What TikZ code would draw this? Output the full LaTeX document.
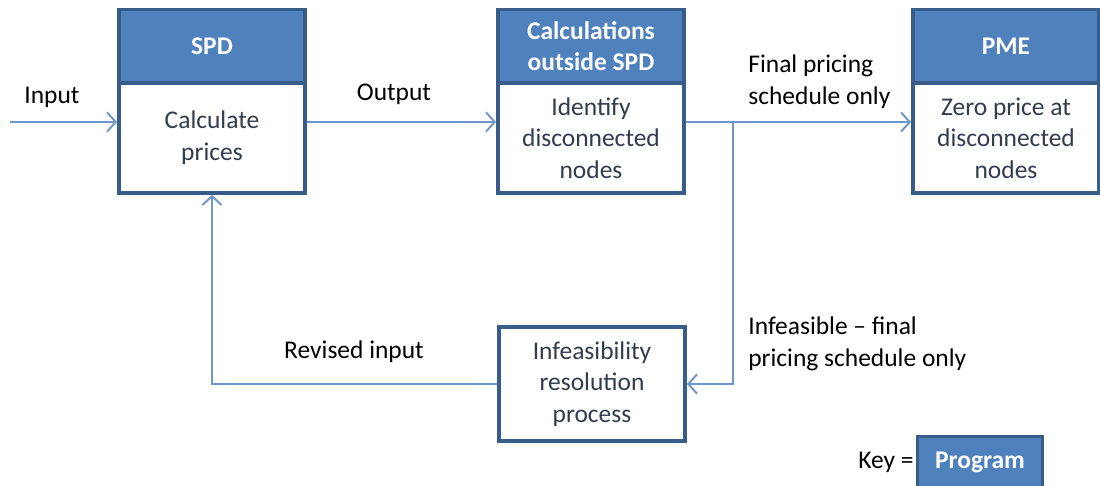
\documentclass[tikz,border=0pt]{standalone}
\usepackage{fontspec}
\setmainfont{Carlito}
\usetikzlibrary{arrows.meta}
\definecolor{hdblue}{RGB}{79,129,189}
\definecolor{rimblue}{RGB}{56,93,138}
\definecolor{lineblue}{RGB}{110,150,205}
\definecolor{bodytext}{RGB}{50,60,78}

\begin{document}
\begin{tikzpicture}[x=0.02cm,y=-0.02cm,
    font=\fontsize{14.5}{18}\selectfont,
    head/.style={draw=rimblue,fill=hdblue,line width=2.2pt,text=white,font=\fontsize{14.5}{18}\selectfont\bfseries,
        minimum width=3.72cm,minimum height=1.46cm,align=center,inner sep=0pt},
    body/.style={draw=rimblue,fill=white,line width=2.2pt,text=bodytext,
        minimum width=3.72cm,minimum height=2.2cm,align=center,inner sep=0pt},
    flow/.style={draw=lineblue,line width=1.1pt,-{Straight Barb[length=5pt,width=11pt]}},
    lbl/.style={text=black,align=left,inner sep=0pt}]
    \useasboundingbox (0,0) rectangle (1100,486);

    % program boxes
    \node[head] (spdh) at (212,46) {SPD};
    \node[body] (spd) at (212,138) {Calculate\\prices};

    \node[head] (calch) at (591,46) {Calculations\\outside SPD};
    \node[body] (calc) at (591,138) {Identify\\disconnected\\nodes};

    \node[head] (pmeh) at (1006,46) {PME};
    \node[body] (pme) at (1006,138) {Zero price at\\disconnected\\nodes};

    % infeasibility step
    \node[body,minimum height=2.28cm] (infs) at (592,384) {Infeasibility\\resolution\\process};

    % flows
    \coordinate (in) at (10,122);
    \coordinate (br) at (733,122);
    \draw[flow] (in) -- (spd.west |- in);
    \draw[flow] (spd.east |- in) -- (calc.west |- in);
    \draw[flow] (calc.east |- in) -- (pme.west |- in);
    \draw[flow] (br) -- (br |- infs.east) -- (infs.east);
    \draw[flow] (infs.west) -| (spd.south);

    % labels
    \node[lbl] (inlbl) at (52,97) {Input};
    \node[lbl] (outlbl) at (394,94) {Output};
    \node[lbl,anchor=west] (finlbl) at (748,82) {Final pricing\\schedule only};
    \node[lbl,anchor=west] (inflbl) at (748,344) {Infeasible -- final\\pricing schedule only};
    \node[lbl] (revlbl) at (354,352) {Revised input};

    % key
    \node[head,minimum width=2.5cm,minimum height=1.02cm] (prog) at (980,462) {Program};
    \node[lbl,anchor=east] (key) at (914,462) {Key =};
\end{tikzpicture}
\end{document}
